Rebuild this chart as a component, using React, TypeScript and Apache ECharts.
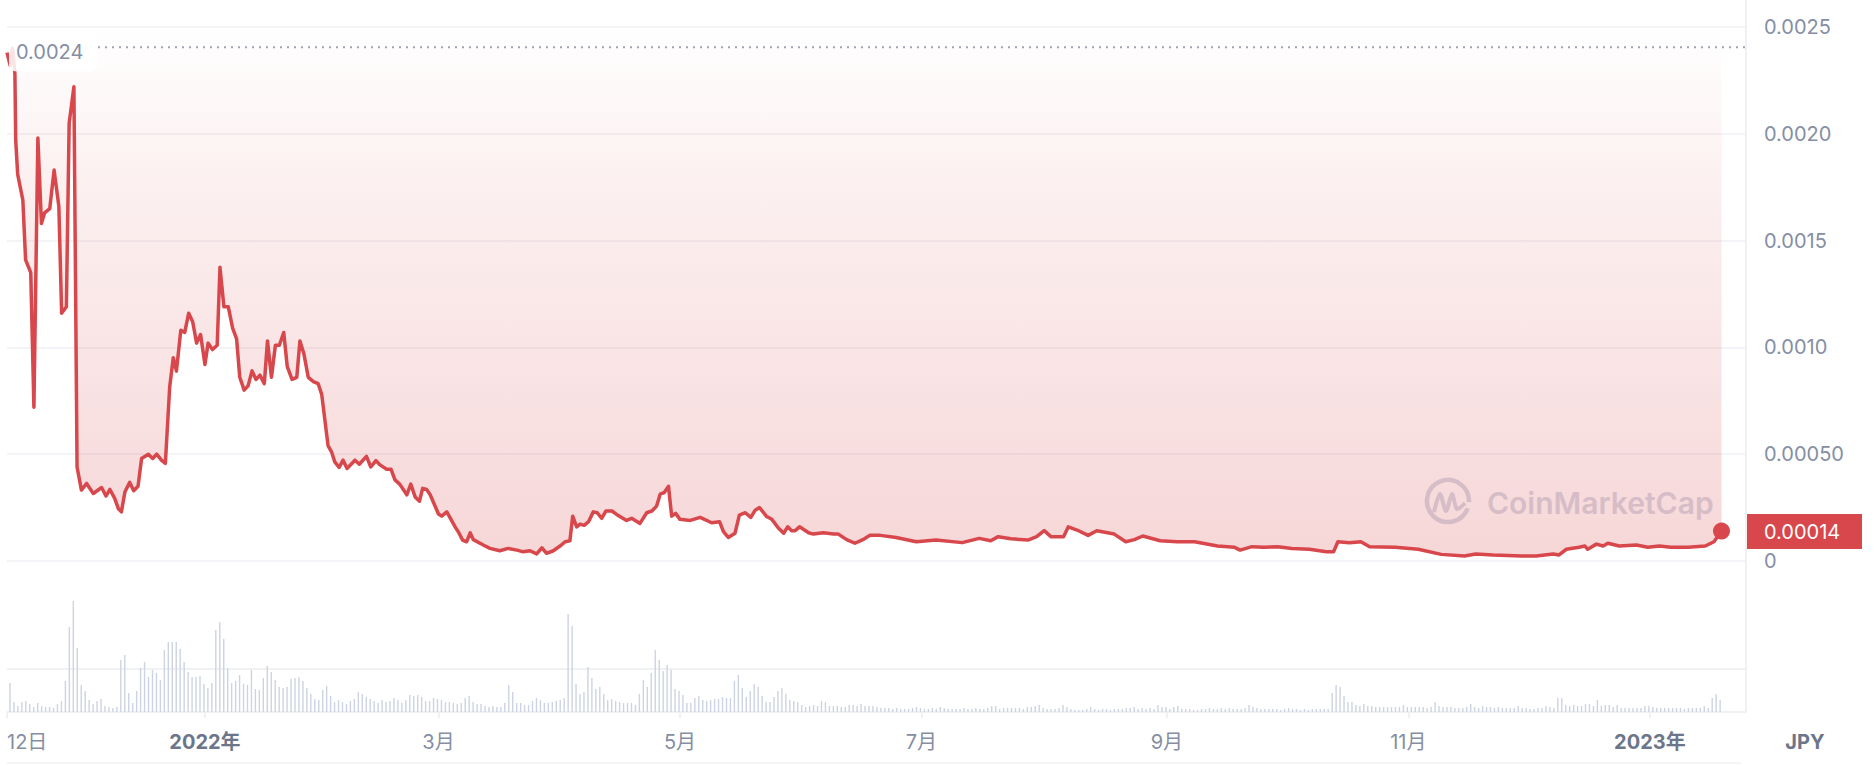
import React, { useEffect, useRef } from 'react';
import * as echarts from 'echarts';

const START_DATE = '2021-11-12T00:00:00Z';
const VOLUME_START = '2021-11-12T18:00:00Z';
const AXIS_END = '2023-01-25T07:00:00Z';

// price: day offset from START_DATE, value in JPY
const priceDays = [
  0, 0.8, 1.4, 2.0, 2.2, 2.7, 4.0, 4.7, 6.0, 6.8, 7.8, 8.7, 9.5, 10.8, 11.9, 13.1, 13.8, 15.0, 15.7, 16.9,
  17.7, 18.8, 20.1, 21.8, 23.9, 25.0, 26.0, 27.2, 28.1, 28.9, 29.8, 31.0, 32.0, 33.1, 34.0, 35.7, 36.8, 37.8, 39.0, 40.0,
  41.1, 42.0, 42.8, 43.9, 44.9, 45.9, 46.9, 47.9, 48.9, 50.0, 50.8, 51.9, 53.1, 53.8, 54.8, 55.9, 57.0, 58.0, 58.8, 59.9,
  60.9, 61.9, 62.9, 63.9, 65.0, 65.8, 66.8, 67.8, 68.8, 69.9, 70.8, 72.0, 73.2, 74.0, 75.0, 76.1, 77.4, 78.6, 79.5, 81.1,
  82.0, 82.8, 83.9, 84.9, 85.9, 87.9, 89.0, 90.8, 91.9, 93.2, 94.2, 95.9, 97.0, 98.0, 99.2, 101.0, 102.0, 103.1, 104.2, 105.0,
  106.0, 106.9, 109.0, 109.8, 111.1, 113.2, 114.0, 115.1, 116.1, 117.0, 117.8, 120.3, 122.0, 124.5, 126.6, 128.8, 130.4, 132.1, 133.8, 135.1,
  136.3, 138.0, 139.7, 141.0, 142.2, 142.9, 143.9, 144.8, 145.8, 146.9, 148.1, 149.1, 150.2, 151.3, 152.8, 154.0, 156.5, 157.8, 159.9, 161.6,
  162.9, 164.1, 165.0, 166.0, 167.1, 167.9, 168.9, 170.0, 172.6, 175.1, 178.0, 180.0, 181.0, 182.2, 183.9, 185.0, 186.5, 187.9, 189.0, 190.1,
  191.8, 193.2, 194.9, 196.2, 197.2, 198.2, 199.1, 200.2, 202.5, 203.7, 206.2, 208.8, 210.0, 212.1, 214.2, 216.2, 218.0, 220.6, 224.6, 229.7,
  234.7, 241.3, 245.6, 248.5, 250.4, 253.6, 257.9, 260.1, 262.0, 263.7, 266.9, 268.1, 270.3, 273.1, 275.3, 279.7, 282.6, 284.8, 286.9, 291.3,
  295.6, 300.0, 305.8, 310.1, 311.5, 314.5, 317.4, 321.0, 324.6, 329.0, 333.3, 335.1, 336.2, 339.1, 342.0, 344.2, 350.7, 356.5, 362.3, 368.2,
  371.0, 375.4, 382.6, 386.3, 390.6, 392.0, 393.9, 397.1, 398.6, 399.3, 401.5, 403.2, 404.4, 407.3, 411.6, 414.5, 417.4, 420.3, 424.7, 429.0,
  431.2, 433.1,
];
const priceValues = [
  0.00238, 0.00232, 0.0024, 0.00228, 0.00197, 0.00181, 0.00169, 0.00141, 0.00135, 0.00072, 0.00198, 0.00158, 0.00163, 0.00165, 0.00183, 0.00166, 0.00116, 0.00119, 0.00205, 0.00222,
  0.00044, 0.000332, 0.000363, 0.000316, 0.000344, 0.000304, 0.000335, 0.000293, 0.000246, 0.00023, 0.000324, 0.000368, 0.000329, 0.00035, 0.00048, 0.0005, 0.00048, 0.0005, 0.000472, 0.000457,
  0.000815, 0.000952, 0.000889, 0.00108, 0.00107, 0.00116, 0.00112, 0.00102, 0.00106, 0.00092, 0.00102, 0.00099, 0.00101, 0.001375, 0.00119, 0.00119, 0.00109, 0.00104, 0.00086, 0.0008,
  0.00082, 0.00089, 0.00085, 0.00087, 0.00083, 0.00103, 0.00086, 0.00101, 0.00101, 0.00107, 0.00091, 0.00085, 0.00086, 0.00103, 0.00097, 0.00086, 0.00084, 0.00083, 0.00078, 0.00054,
  0.00051, 0.000464, 0.000438, 0.000472, 0.000433, 0.000472, 0.000453, 0.00049, 0.00044, 0.00047, 0.00045, 0.00043, 0.00043, 0.00038, 0.00036, 0.00031, 0.00036, 0.0003, 0.00028, 0.00034,
  0.000335, 0.00031, 0.00022, 0.00021, 0.00023, 0.00016, 0.000137, 0.000098, 0.00009, 0.000132, 0.0001, 0.000075, 0.000059, 0.000048, 0.000059, 0.000051, 0.000043, 0.000048, 0.000033, 0.000062,
  0.000036, 0.000048, 0.00007, 0.00009, 0.000095, 0.00021, 0.00016, 0.000173, 0.000167, 0.000184, 0.00023, 0.000226, 0.0002, 0.000234, 0.000234, 0.000218, 0.00019, 0.0002, 0.000176, 0.000226,
  0.000234, 0.000257, 0.000313, 0.00032, 0.00035, 0.00021, 0.000223, 0.000195, 0.00019, 0.000204, 0.000179, 0.000184, 0.000137, 0.00011, 0.00013, 0.000215, 0.000226, 0.000204, 0.000238, 0.00025,
  0.00021, 0.000195, 0.000153, 0.00013, 0.00016, 0.000142, 0.000142, 0.00016, 0.000132, 0.000126, 0.000132, 0.000126, 0.000126, 0.0001, 0.000083, 0.0001, 0.00012, 0.00012, 0.00011, 0.00009,
  0.000098, 0.000086, 0.000106, 0.000095, 0.000114, 0.000104, 0.000098, 0.000114, 0.000142, 0.000114, 0.000114, 0.00016, 0.000145, 0.00012, 0.000142, 0.000126, 0.00009, 0.0001, 0.000117, 0.000095,
  0.00009, 0.00009, 0.00007, 0.000064, 0.000051, 0.000067, 0.000064, 0.000067, 0.000059, 0.000055, 0.000043, 0.000043, 0.00009, 0.000086, 0.00009, 0.000067, 0.000064, 0.000055, 0.000031, 0.000023,
  0.000033, 0.000028, 0.000023, 0.000023, 0.000033, 0.000028, 0.000055, 0.000064, 0.00007, 0.000055, 0.000079, 0.00007, 0.000083, 0.00007, 0.000075, 0.000064, 0.00007, 0.000064, 0.000064, 0.00007,
  0.00009, 0.00014,
];

// daily trading volume (relative units), one bar per day from VOLUME_START
const volumeValues = [
  87, 30, 18, 30, 33, 24, 15, 27, 18, 15, 15, 12, 24, 33, 93, 255, 333, 192, 81, 63,
  36, 24, 33, 39, 18, 15, 12, 15, 156, 171, 57, 27, 63, 132, 150, 105, 126, 117, 96, 186,
  210, 210, 210, 189, 150, 120, 105, 105, 108, 84, 72, 87, 246, 270, 219, 132, 87, 93, 111, 84,
  81, 126, 69, 66, 102, 138, 120, 96, 75, 72, 75, 99, 102, 105, 93, 72, 54, 39, 36, 66,
  78, 48, 30, 36, 30, 24, 33, 39, 60, 54, 45, 39, 33, 27, 36, 30, 33, 42, 36, 27,
  36, 51, 48, 51, 45, 33, 33, 42, 39, 36, 30,
  30, 27, 24, 27, 42, 48, 30, 24, 24, 18, 15, 18, 15, 15, 27, 81, 60, 27, 27, 21,
  21, 33, 42, 36, 27, 27, 30, 33, 36, 42, 294, 258, 84, 54, 60, 135, 102, 69, 75, 54,
  36, 39, 33, 30, 27, 27, 27, 21, 54, 96, 75, 117, 186, 156, 123, 141, 126, 69, 63, 51,
  27, 27, 42, 48, 36, 33, 36, 39, 39, 45, 42, 42, 93, 111, 72, 45, 63, 84, 75, 48,
  30, 30, 45, 63, 72, 54, 36, 33, 30, 21, 15, 18, 21, 18, 33, 30, 18, 18, 18, 15,
  15, 21, 21, 18, 24, 18, 18, 18, 15, 12, 12,
  12, 9, 12, 9, 9, 9, 12, 15, 12, 9, 9, 12, 9, 15, 12, 9, 9, 9, 9, 12,
  9, 9, 12, 9, 9, 12, 18, 18, 9, 12, 12, 12, 12, 12, 9, 15, 15, 18, 21, 12,
  9, 9, 9, 12, 21, 15, 9, 6, 6, 6, 9, 15, 9, 6, 9, 9, 6, 9, 9, 9,
  12, 12, 15, 9, 12, 9, 12, 9, 21, 15, 15, 9, 15, 18, 9, 9, 9, 6, 6, 9,
  9, 12, 9, 9, 12, 9, 12, 9, 9, 9, 12, 21, 15, 12, 9, 9, 9, 9, 9, 6,
  9, 12, 9, 9, 6, 9, 6, 9, 9, 9, 9,
  9, 57, 81, 75, 48, 30, 30, 21, 18, 24, 18, 18, 15, 15, 15, 15, 15, 15, 15, 21,
  15, 15, 15, 15, 15, 12, 15, 30, 18, 15, 15, 15, 12, 12, 12, 15, 24, 15, 12, 18,
  15, 15, 12, 15, 12, 12, 12, 12, 18, 12, 12, 9, 9, 12, 12, 18, 15, 12, 42, 42,
  21, 18, 21, 18, 18, 24, 24, 18, 36, 18, 21, 21, 15, 21, 12, 12, 12, 12, 12, 12,
  18, 18, 15, 12, 12, 12, 12, 12, 12, 12, 9, 12, 12, 12, 12, 18, 12, 42, 54, 36,
];

const xTickDates = ['2021-11-12', '2022-01-01', '2022-03-01', '2022-05-01', '2022-07-01', '2022-09-01', '2022-11-01', '2023-01-01'];
const xTickLabels = ['12日', '2022年', '3月', '5月', '7月', '9月', '11月', '2023年'];
const xTickBold = [false, true, false, false, false, false, false, true];
const yTickLabels = ['0', '0.00050', '0.0010', '0.0015', '0.0020', '0.0025'];
const currencyLabel = 'JPY';
const watermarkText = 'CoinMarketCap';

const DAY = 86400000;
const FONT = "Inter, 'Noto Sans CJK JP', sans-serif";
const RED = '#d8474b';
const GRAY = '#858ea3';
const BOLD_GRAY = '#6c768b';
const LIGHT_LINE = '#eff1f4';

export default function App() {
  const ref = useRef<HTMLDivElement>(null);

  useEffect(() => {
    if (!ref.current) return;
    const chart = echarts.init(ref.current, null, { renderer: 'svg' });
    const t0 = Date.parse(START_DATE);
    const v0 = Date.parse(VOLUME_START);
    const tEnd = Date.parse(AXIS_END);
    const tickTimes = xTickDates.map((d) => Date.parse(d + 'T00:00:00Z'));

    const priceData = priceDays.map((d, i) => [t0 + d * DAY, priceValues[i]]);
    const volumeData = volumeValues.map((v, i) => [v0 + i * DAY, v]);
    const last = priceData[priceData.length - 1];

    const gridLeft = 7;
    const gridRight = 128;
    const width = 1874;

    const option: any = {
      animation: false,
      backgroundColor: '#ffffff',
      textStyle: { fontFamily: FONT },
      grid: [
        { left: gridLeft, right: gridRight, top: 27, bottom: 205 },
        { left: gridLeft, right: gridRight, top: 592, bottom: 54 },
      ],
      xAxis: [
        {
          type: 'value', gridIndex: 0, min: t0, max: tEnd, show: false,
          splitLine: { show: false },
        },
        {
          type: 'value', gridIndex: 1, min: t0, max: tEnd,
          axisLine: { show: true, lineStyle: { color: LIGHT_LINE, width: 2 } },
          axisTick: { show: true, customValues: tickTimes, length: 6, lineStyle: { color: LIGHT_LINE, width: 2 } },
          splitLine: { show: false },
          axisLabel: {
            customValues: tickTimes,
            alignMinLabel: 'left',
            margin: 20,
            fontSize: 20,
            color: GRAY,
            fontFamily: FONT,
            formatter: (val: number) => {
              const idx = tickTimes.findIndex((t) => Math.abs(t - val) < 3600000);
              if (idx < 0) return '';
              return xTickBold[idx] ? `{b|${xTickLabels[idx]}}` : xTickLabels[idx];
            },
            rich: {
              b: { fontWeight: 700, color: BOLD_GRAY, fontSize: 20, fontFamily: FONT },
            },
          },
        },
      ],
      yAxis: [
        {
          type: 'value', gridIndex: 0, position: 'right', min: 0, max: 0.0025, interval: 0.0005,
          axisLine: { show: false }, axisTick: { show: false },
          axisLabel: {
            margin: 18, fontSize: 20, color: GRAY, fontFamily: FONT,
            formatter: (v: number) => yTickLabels[Math.round(v / 0.0005)] ?? '',
          },
          splitLine: { lineStyle: { color: LIGHT_LINE, width: 1.5 } },
        },
        {
          type: 'value', gridIndex: 1, min: 0, max: 360, show: false,
          splitLine: { show: false },
        },
      ],
      series: [
        {
          type: 'bar', xAxisIndex: 1, yAxisIndex: 1, data: volumeData,
          barWidth: 1.4, itemStyle: { color: '#cdd3e1' }, silent: true,
        },
        {
          type: 'line', xAxisIndex: 0, yAxisIndex: 0, data: priceData,
          showSymbol: false, symbol: 'none', z: 4,
          lineStyle: { color: RED, width: 3.5, join: 'round' },
          areaStyle: {
            origin: 'end',
            color: new echarts.graphic.LinearGradient(0, 0, 0, 1, [
              { offset: 0, color: 'rgba(216,71,75,0.0)' },
              { offset: 0.3, color: 'rgba(216,71,75,0.12)' },
              { offset: 1, color: 'rgba(216,71,75,0.31)' },
            ]),
          },
          markPoint: {
            symbol: 'circle', symbolSize: 17, silent: true,
            itemStyle: { color: RED },
            label: { show: false },
            data: [{ coord: last }],
          },
        },
      ],
    };
    chart.setOption(option);

    const maxV = Math.max(...priceValues);
    const yMaxPx = chart.convertToPixel({ yAxisIndex: 0 }, maxV) as number;
    const lastPx = chart.convertToPixel({ seriesIndex: 1 }, last) as number[];
    const rightX = width - gridRight;
    const volTop = chart.convertToPixel({ yAxisIndex: 1 }, 129) as number;
    const volBase = chart.convertToPixel({ yAxisIndex: 1 }, 0) as number;

    const lastLabel = Number(last[1]).toPrecision(2).replace(/0+$/, '');
    const maxLabel = maxV.toFixed(4);

    chart.setOption({
      graphic: [
        { type: 'line', silent: true, z: 0, shape: { x1: rightX, y1: 0, x2: rightX, y2: volBase + 1 }, style: { stroke: LIGHT_LINE, lineWidth: 2 } },
        { type: 'line', silent: true, z: 0, shape: { x1: gridLeft, y1: volTop, x2: rightX, y2: volTop }, style: { stroke: LIGHT_LINE, lineWidth: 2 } },
        { type: 'line', silent: true, z: 0, shape: { x1: gridLeft, y1: 763, x2: rightX - 5, y2: 763 }, style: { stroke: '#f3f4f7', lineWidth: 2 } },
        // max dotted line
        { type: 'line', silent: true, z: 10, shape: { x1: 98, y1: yMaxPx - 1, x2: rightX, y2: yMaxPx - 1 }, style: { stroke: '#9ea4b3', lineWidth: 2, lineDash: [2, 5] } },
        { type: 'rect', silent: true, z: 10, shape: { x: 9, y: yMaxPx - 11, width: 88, height: 34, r: 6 }, style: { fill: 'rgba(255,255,255,0.85)' } },
        { type: 'text', silent: true, z: 11, x: 16, y: yMaxPx + 4, style: { text: maxLabel, fill: GRAY, fontSize: 20, fontFamily: FONT, verticalAlign: 'middle', align: 'left' } },
        // last price tag
        { type: 'rect', silent: true, z: 10, shape: { x: rightX + 1, y: lastPx[1] - 17, width: 115, height: 35 }, style: { fill: RED } },
        { type: 'text', silent: true, z: 11, x: rightX + 18, y: lastPx[1] + 1, style: { text: lastLabel, fill: '#ffffff', fontSize: 20, fontFamily: FONT, verticalAlign: 'middle', align: 'left' } },
        // currency
        { type: 'text', silent: true, z: 11, x: 1805, y: 742, style: { text: currencyLabel, fill: BOLD_GRAY, fontSize: 20, fontWeight: 700, fontFamily: FONT, verticalAlign: 'middle', align: 'center' } },
        // watermark
        { type: 'arc', silent: true, z: 1, shape: { cx: 1448, cy: 501, r: 21, startAngle: 0.35, endAngle: Math.PI * 2 + 0.05 }, style: { stroke: '#d5dae6', lineWidth: 4.5, fill: 'none' } },
        { type: 'polyline', silent: true, z: 1, shape: { points: [[1434, 512], [1440, 494], [1446, 511], [1452, 494], [1457, 509], [1465, 503]], smooth: 0.3 }, style: { stroke: '#d5dae6', lineWidth: 4, fill: 'none' } },
        { type: 'text', silent: true, z: 1, x: 1487, y: 503, style: { text: watermarkText, fill: '#d5dae6', fontSize: 30, fontWeight: 600, fontFamily: FONT, verticalAlign: 'middle', align: 'left' } },
      ],
    });

    return () => chart.dispose();
  }, []);

  return (
    <div
      ref={ref}
      style={{ position: 'fixed', left: 0, top: 0, width: 1874, height: 766, background: '#ffffff' }}
    />
  );
}
